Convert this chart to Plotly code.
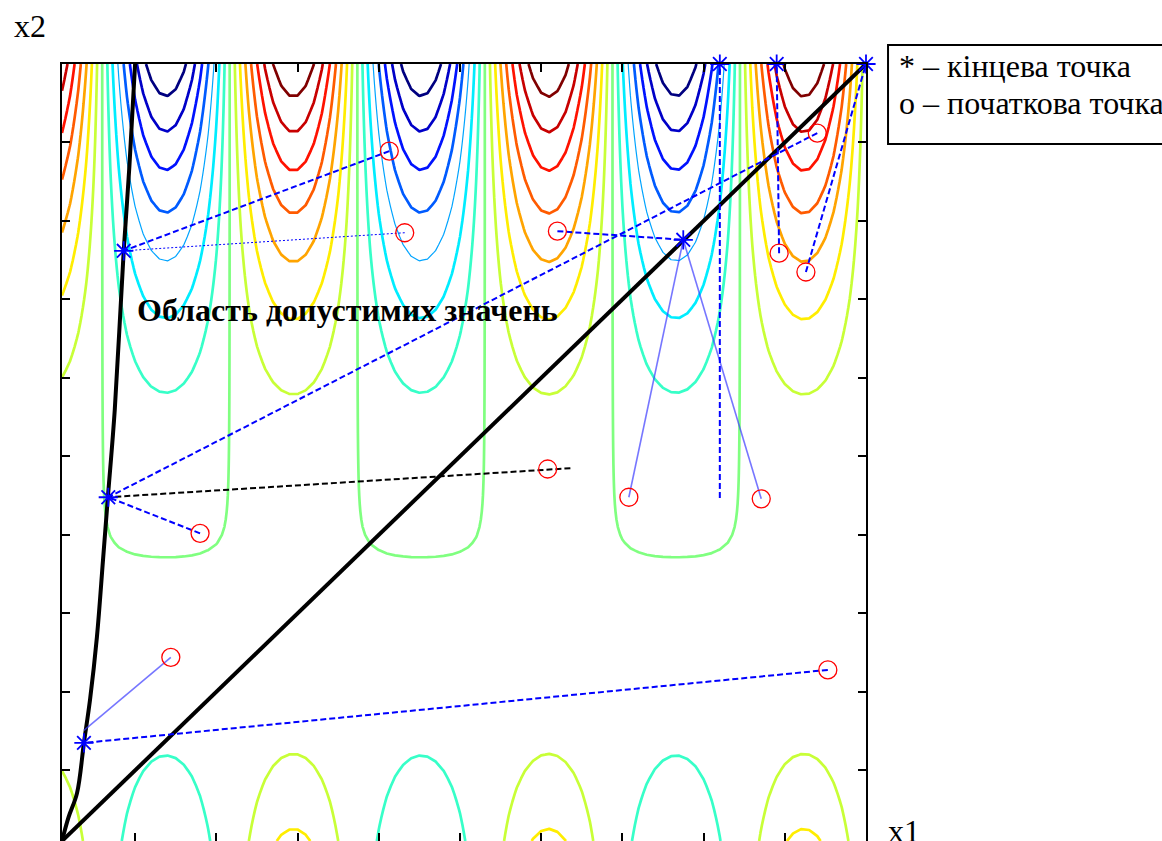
import numpy as np
import plotly.graph_objects as go

# ---------------- axes ----------------
x_range = [0.1, 10.0]
y_range = [0.1, 10.0]
x_ticks = [1, 2, 3, 4, 5, 6, 7, 8, 9]
y_ticks = [1, 2, 3, 4, 5, 6, 7, 8, 9]

# ---------------- objective function (contour field) ----------------
# f(x1, x2) = amp_coef * (x2 - amp_zero_row)^2 * (-cos(2 (x1 - blue_col_center)))
grid_step = 0.1
amp_coef = 0.189
amp_zero_row = 3.5
blue_col_center = 1.38
level_offset = 0.009
level_ids = list(range(-7, 8))          # 15 contour levels (jet colours)
thin_level_ids = [-3]
bottom_level_ids = [-1, 1, 2]            # levels visible in the lower band

# ---------------- constraints ----------------
constraint1_x1 = [0.10, 0.18, 0.285, 0.37, 0.445, 0.53, 0.605, 0.665, 0.75, 0.86, 0.93, 1.00]
constraint1_x2 = [0.10, 0.40, 0.71, 1.35, 1.90, 2.70, 3.68, 4.48, 5.60, 7.62, 8.70, 10.0]
constraint2_x1 = [0.10, 10.0]
constraint2_x2 = [0.10, 10.0]

# ---------------- optimisation runs ----------------
end_x1 = [0.86, 0.67, 0.37, 7.75, 8.20, 8.90, 10.0]
end_x2 = [7.62, 4.48, 1.35, 7.76, 10.0, 10.0, 10.0]

start_x1 = [4.13, 4.32, 9.40, 6.08, 1.80, 9.53, 1.44, 6.20, 7.08, 8.71, 8.93, 9.26]
start_x2 = [8.89, 7.85, 9.12, 4.84, 4.02, 2.28, 2.44, 7.87, 4.48, 4.46, 7.59, 7.35]

path_from_x1 = [4.13, 4.32, 9.40, 6.36, 1.80, 9.53, 1.44, 6.20, 7.08, 8.71, 8.20, 8.93, 9.26]
path_from_x2 = [8.89, 7.85, 9.12, 4.85, 4.02, 2.28, 2.44, 7.87, 4.48, 4.46, 4.47, 7.59, 7.35]
path_to_x1 = [0.86, 0.86, 0.67, 0.67, 0.67, 0.37, 0.37, 7.75, 7.75, 7.75, 8.20, 8.90, 10.0]
path_to_x2 = [7.62, 7.62, 4.48, 4.48, 4.48, 1.35, 1.51, 7.76, 7.76, 7.76, 10.0, 10.0, 10.0]
path_style = ["dash", "dot", "dash", "black", "dash", "dash", "thin",
              "dash", "thin", "thin", "dash", "dash", "dash"]

region_label = "Область допустимих значень"
legend_lines = ["* – кінцева точка", "o – початкова точка"]


def jet(t):
    r = min(max(1.5 - abs(4 * t - 3), 0), 1)
    g = min(max(1.5 - abs(4 * t - 2), 0), 1)
    b = min(max(1.5 - abs(4 * t - 1), 0), 1)
    return "rgb(%d,%d,%d)" % (round(r * 255), round(g * 255), round(b * 255))


def field(u, v):
    U, V = np.meshgrid(u, v)
    return amp_coef * (V - amp_zero_row) ** 2 * (-np.cos(2 * (U - blue_col_center)))


u = np.round(np.arange(x_range[0], x_range[1] + 1e-9, grid_step), 4)
v_top = np.round(np.arange(amp_zero_row, y_range[1] + 1e-9, grid_step), 4)
v_bot = np.round(np.arange(y_range[0], amp_zero_row + 1e-9, grid_step), 4)
z_top = field(u, v_top)
z_bot = field(u, v_bot)

FONT = "Liberation Serif"
fig = go.Figure()

n_lev = len(level_ids)
for i, k in enumerate(level_ids):
    col = jet(i / (n_lev - 1))
    lev = k - level_offset
    w = 1.2 if k in thin_level_ids else 2.7
    parts = [(v_top, z_top)]
    if k in bottom_level_ids:
        parts.append((v_bot, z_bot))
    for vv, zz in parts:
        fig.add_trace(go.Contour(
            x=u, y=vv, z=zz, autocontour=False,
            contours=dict(start=lev, end=lev, size=1, coloring="lines", showlabels=False),
            colorscale=[[0, col], [1, col]], showscale=False,
            line=dict(width=w, smoothing=0), hoverinfo="skip", showlegend=False))

# constraints
fig.add_trace(go.Scatter(x=constraint1_x1, y=constraint1_x2, mode="lines",
                         line=dict(color="black", width=4, shape="spline"),
                         hoverinfo="skip", showlegend=False))
fig.add_trace(go.Scatter(x=constraint2_x1, y=constraint2_x2, mode="lines",
                         line=dict(color="black", width=4),
                         hoverinfo="skip", showlegend=False))

styles = {
    "dash": dict(color="blue", width=2, dash="6px,3px"),
    "dot": dict(color="blue", width=1, dash="2px,2px"),
    "black": dict(color="black", width=2, dash="6px,3px"),
    "thin": dict(color="rgba(60,60,255,0.7)", width=1.6),
}
for fx, fy, tx, ty, st in zip(path_from_x1, path_from_x2, path_to_x1, path_to_x2, path_style):
    fig.add_trace(go.Scatter(x=[fx, tx], y=[fy, ty], mode="lines", line=styles[st],
                             hoverinfo="skip", showlegend=False))

fig.add_trace(go.Scatter(x=start_x1, y=start_x2, mode="markers", cliponaxis=False,
                         marker=dict(symbol="circle-open", size=18, color="red",
                                     line=dict(color="red", width=1.3)),
                         hoverinfo="skip", showlegend=False))
fig.add_trace(go.Scatter(x=end_x1, y=end_x2, mode="markers", cliponaxis=False,
                         marker=dict(symbol="asterisk-open", size=16, color="blue",
                                     line=dict(color="blue", width=1.8)),
                         hoverinfo="skip", showlegend=False))

axis_common = dict(showgrid=False, zeroline=False, showline=True, linecolor="black",
                   linewidth=2, mirror="ticks", ticks="inside", ticklen=8, tickwidth=1.5,
                   tickcolor="black", showticklabels=False)
fig.update_layout(
    width=1162, height=841,
    margin=dict(l=62, r=296, t=64, b=0),
    paper_bgcolor="white", plot_bgcolor="white",
    xaxis=dict(range=x_range, tickvals=x_ticks, **axis_common),
    yaxis=dict(range=y_range, tickvals=y_ticks, **axis_common),
    font=dict(family=FONT, color="black"),
)

annotations = [
    dict(text=region_label, x=1.0, y=6.87, xref="x", yref="y", xanchor="left",
         yanchor="middle", showarrow=False,
         font=dict(family=FONT, size=32, color="black", weight="bold")),
    dict(text=legend_lines[0], x=1.0386, y=0.997, xref="paper", yref="paper",
         xanchor="left", yanchor="middle", showarrow=False,
         font=dict(family=FONT, size=32, color="black")),
    dict(text=legend_lines[1], x=1.0386, y=0.950, xref="paper", yref="paper",
         xanchor="left", yanchor="middle", showarrow=False,
         font=dict(family=FONT, size=32, color="black")),
    dict(text="x2", x=-0.0398, y=1.049, xref="paper", yref="paper",
         xanchor="center", yanchor="middle", showarrow=False,
         font=dict(family=FONT, size=32, color="black")),
    dict(text="x1", x=1.047, y=0.013, xref="paper", yref="paper",
         xanchor="center", yanchor="middle", showarrow=False,
         font=dict(family=FONT, size=32, color="black")),
]
fig.update_layout(annotations=annotations)
fig.add_shape(type="rect", xref="paper", yref="paper", x0=1.0274, x1=1.5, y0=0.897, y1=1.0245,
              line=dict(color="black", width=2), fillcolor="rgba(0,0,0,0)")

fig.write_html("out.html", config={"displayModeBar": False},
               post_script="document.body.style.margin='0';document.body.style.overflow='hidden';")
